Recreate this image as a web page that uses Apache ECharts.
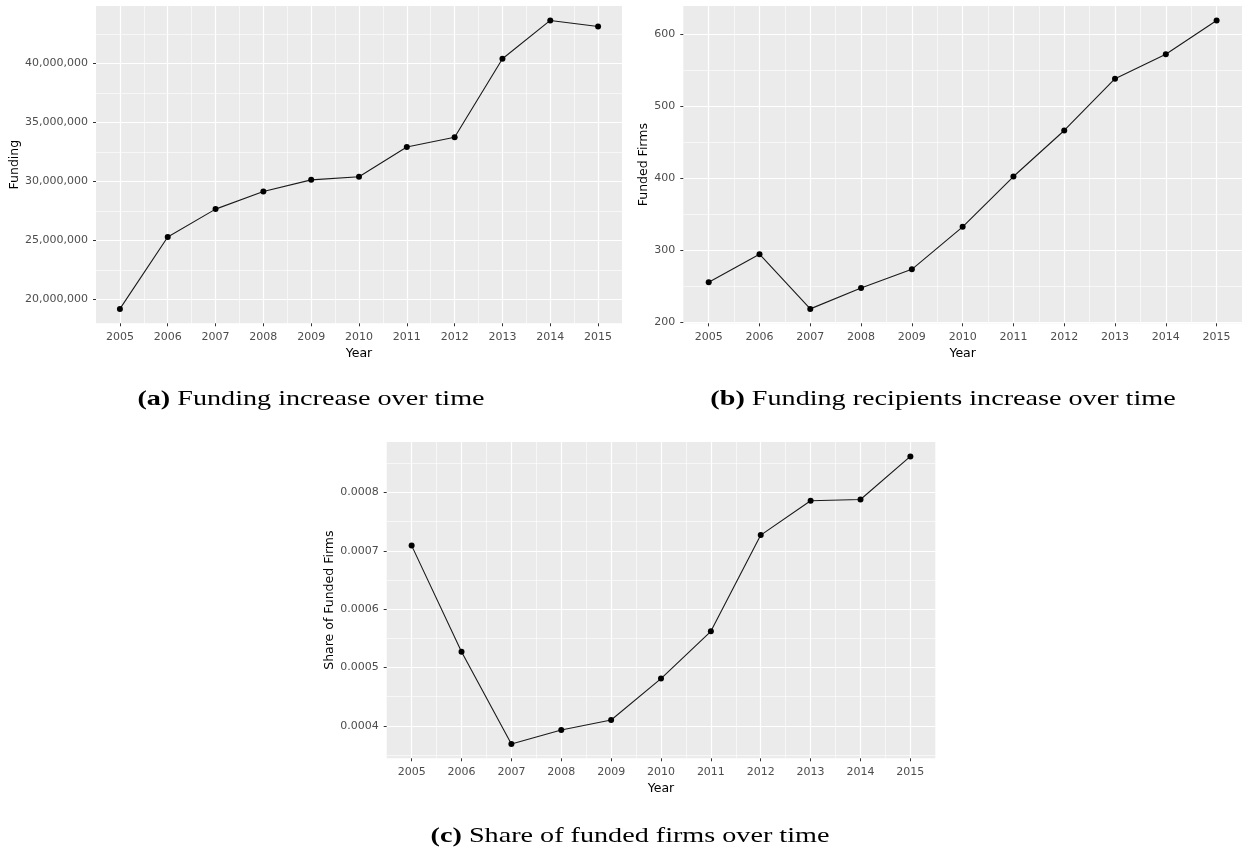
<!DOCTYPE html>
<html>
<head>
<meta charset="utf-8">
<script src="https://cdn.jsdelivr.net/npm/echarts@6/dist/echarts.min.js"></script>
<style>
html,body{margin:0;padding:0;background:#fff;}
#chart{width:1249px;height:848px;}
</style>
</head>
<body>
<div id="chart"></div>
<script>
// ---- data ----
const years = [2005, 2006, 2007, 2008, 2009, 2010, 2011, 2012, 2013, 2014, 2015];
const funding = [19200000, 25290000, 27660000, 29150000, 30140000, 30400000, 32920000, 33760000, 40410000, 43660000, 43150000];
const fundedFirms = [255, 294, 218, 247, 273, 332, 402, 466, 538, 572, 619];
const shareFunded = [0.000709, 0.000527, 0.000369, 0.000393, 0.000410, 0.000481, 0.000562, 0.000727, 0.000786, 0.000788, 0.000862];
const fundingTicks = [20000000, 25000000, 30000000, 35000000, 40000000];
const firmTicks = [200, 300, 400, 500, 600];
const shareTicks = [0.0004, 0.0005, 0.0006, 0.0007, 0.0008];
const xTitle = 'Year';
const yTitles = ['Funding', 'Funded Firms', 'Share of Funded Firms'];
const captions = [
  ['(a)', 'Funding increase over time'],
  ['(b)', 'Funding recipients increase over time'],
  ['(c)', 'Share of funded firms over time']
];

// ---- layout / style ----
const grids = [
  {left: 96, top: 6, width: 526, height: 317.3},
  {left: 683.3, top: 6, width: 558.7, height: 317.3},
  {left: 386.7, top: 442, width: 548.6, height: 316.3}
];
const yNameGaps = [68, 28, 44];
const labelFont = {color: '#4D4D4D', fontSize: 11, fontFamily: 'DejaVu Sans'};
const nameFont = {color: '#000', fontSize: 12.5, fontFamily: 'DejaVu Sans'};
const expandMin = v => v.min - 0.05 * (v.max - v.min);
const expandMax = v => v.max + 0.05 * (v.max - v.min);

function xAxisFor(i) {
  return {
    type: 'value', gridIndex: i, min: 2004.5, max: 2015.5,
    minInterval: 1, maxInterval: 1,
    axisLine: {show: false},
    axisTick: {show: true, customValues: years, length: 3, lineStyle: {color: '#333', width: 1}},
    axisLabel: Object.assign({customValues: years, margin: 8, formatter: v => String(v)}, labelFont),
    splitLine: {show: true, lineStyle: {color: '#fff', width: 1.2}},
    minorTick: {show: false, splitNumber: 2},
    minorSplitLine: {show: true, lineStyle: {color: '#fff', width: 0.6}},
    name: xTitle, nameLocation: 'middle', nameGap: 24, nameTextStyle: nameFont
  };
}
function yAxisFor(i, ticks, step, fmt) {
  return {
    type: 'value', gridIndex: i, min: expandMin, max: expandMax,
    minInterval: step, maxInterval: step,
    axisLine: {show: false},
    axisTick: {show: true, customValues: ticks, length: 3, lineStyle: {color: '#333', width: 1}},
    axisLabel: Object.assign({customValues: ticks, margin: 8, formatter: fmt}, labelFont),
    splitLine: {show: true, lineStyle: {color: '#fff', width: 1.2}},
    minorTick: {show: false, splitNumber: 2},
    minorSplitLine: {show: true, lineStyle: {color: '#fff', width: 0.6}},
    name: yTitles[i], nameLocation: 'middle', nameGap: yNameGaps[i], nameRotate: 90,
    nameTextStyle: nameFont
  };
}
function seriesFor(i, vals) {
  return {
    type: 'line', xAxisIndex: i, yAxisIndex: i,
    data: years.map((y, k) => [y, vals[k]]),
    symbol: 'circle', symbolSize: 6, showSymbol: true,
    itemStyle: {color: '#000'},
    lineStyle: {color: '#1a1a1a', width: 1.1},
    silent: true
  };
}

const captionPos = [[311, 399], [943, 399], [630, 836.5]];
const graphics = captions.map((c, i) => ({
  type: 'text', x: captionPos[i][0], y: captionPos[i][1], scaleX: 1.28,
  style: {
    text: '{b|' + c[0] + '} ' + c[1],
    fontFamily: 'Liberation Serif', fontSize: 22,
    fill: '#000', align: 'center', verticalAlign: 'middle',
    rich: {b: {fontFamily: 'Liberation Serif', fontSize: 22, fontWeight: 'bold', fill: '#000'}}
  }
}));

const chart = echarts.init(document.getElementById('chart'), null, {renderer: 'canvas'});
chart.setOption({
  animation: false,
  backgroundColor: '#fff',
  grid: grids.map(g => Object.assign({show: true, backgroundColor: '#EBEBEB', borderWidth: 0, containLabel: false}, g)),
  xAxis: [xAxisFor(0), xAxisFor(1), xAxisFor(2)],
  yAxis: [
    yAxisFor(0, fundingTicks, 5000000, v => v.toLocaleString('en-US')),
    yAxisFor(1, firmTicks, 100, v => String(v)),
    yAxisFor(2, shareTicks, 0.0001, v => v.toFixed(4))
  ],
  series: [seriesFor(0, funding), seriesFor(1, fundedFirms), seriesFor(2, shareFunded)],
  graphic: graphics
});
</script>
</body>
</html>
